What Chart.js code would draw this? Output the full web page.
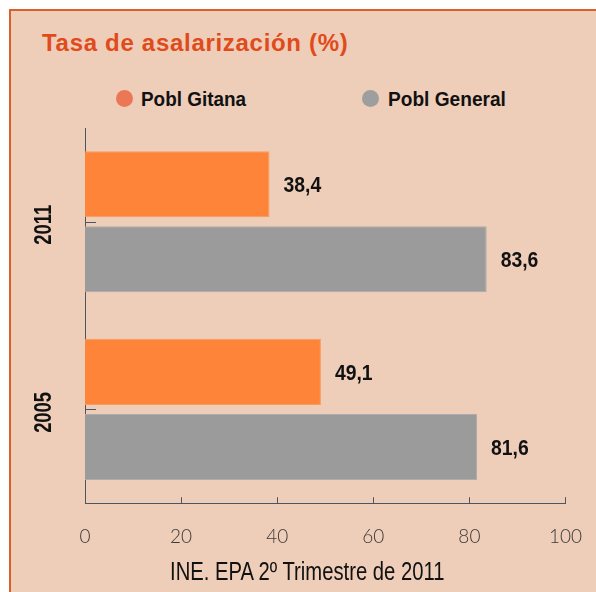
<!DOCTYPE html>
<html>
<head>
<meta charset="utf-8">
<script src="https://cdn.jsdelivr.net/npm/chart.js@4/dist/chart.umd.min.js"></script>
<style>
  html, body { margin: 0; padding: 0; background: #fff; }
  body { width: 596px; height: 592px; position: relative; overflow: hidden; }
  #panel {
    position: absolute; left: 9px; top: 9px; width: 600px; height: 600px;
    background: #eecdb9; border-top: 2px solid #db5f28; border-left: 2px solid #db5f28;
  }
  .cond { font-family: "Liberation Sans", Arial, sans-serif; transform-origin: 0 50%; white-space: nowrap; }
  #title {
    position: absolute; left: 42px; top: 29px; margin: 0;
    font-size: 24px; letter-spacing: 0.7px; font-weight: bold; color: #e04b1b;
  }
  .leg { position: absolute; top: 87px; font-size: 21px; font-weight: bold; color: #111; }
  .dot { position: absolute; top: 90px; width: 17px; height: 17px; border-radius: 50%; }
  #source { position: absolute; left: 170px; top: 557px; font-size: 25px; color: #111; transform: scaleX(0.81); }
  #wrap { position: absolute; left: 0; top: 110px; width: 604px; height: 473px; }
</style>
</head>
<body>
<div id="panel"></div>
<div id="title" class="cond">Tasa de asalarización (%)</div>
<div class="dot" style="left:116px; background:#eb7757"></div>
<div class="leg cond" style="left:141px; transform: scaleX(0.9)">Pobl Gitana</div>
<div class="dot" style="left:362px; background:#9e9e9e"></div>
<div class="leg cond" style="left:388px; transform: scaleX(0.91)">Pobl General</div>
<div id="wrap"><canvas id="chart" width="604" height="473"></canvas></div>
<div id="source" class="cond">INE. EPA 2º Trimestre de 2011</div>
<script>
var years = ['2011', '2005'];
var seriesNames = ['Pobl Gitana', 'Pobl General'];
var gitana = [38.4, 49.1];
var general = [83.6, 81.6];
var xTicks = [0, 20, 40, 60, 80, 100];

var FONT = '"Liberation Sans", Arial, sans-serif';
var axisColor = '#4b5661';

// inward ticks, rotated year labels and value labels (condensed)
var decor = {
    id: 'decor',
    afterDraw: function(chart) {
        var ctx = chart.ctx;
        var xs = chart.scales.x, ys = chart.scales.y;
        var area = chart.chartArea;
        ctx.save();
        ctx.strokeStyle = axisColor;
        ctx.lineWidth = 1;
        xTicks.forEach(function(v) {
            if (v === 0) return;
            var px = Math.round(xs.getPixelForValue(v)) + 0.5;
            ctx.beginPath();
            ctx.moveTo(px, area.bottom);
            ctx.lineTo(px, area.bottom - 6);
            ctx.stroke();
        });
        years.forEach(function(y, i) {
            var py = Math.round(ys.getPixelForValue(i)) + 0.5;
            ctx.beginPath();
            ctx.moveTo(area.left, py);
            ctx.lineTo(area.left + 11, py);
            ctx.stroke();
            ctx.save();
            ctx.translate(45, ys.getPixelForValue(i) + 3);
            ctx.rotate(-Math.PI / 2);
            ctx.scale(0.8, 1);
            ctx.fillStyle = '#111';
            ctx.font = 'bold 23px ' + FONT;
            ctx.textAlign = 'center';
            ctx.textBaseline = 'middle';
            ctx.fillText(y, 0, 0);
            ctx.restore();
        });
        ctx.fillStyle = '#111';
        ctx.font = 'bold 22px ' + FONT;
        ctx.textAlign = 'left';
        ctx.textBaseline = 'middle';
        chart.data.datasets.forEach(function(ds, di) {
            chart.getDatasetMeta(di).data.forEach(function(bar, i) {
                var txt = ds.data[i].toFixed(1).replace('.', ',');
                ctx.save();
                ctx.translate(bar.x + 14, bar.y + 2);
                ctx.scale(0.88, 1);
                ctx.fillText(txt, 0, 0);
                ctx.restore();
            });
        });
        ctx.restore();
    }
};

new Chart(document.getElementById('chart'), {
    type: 'bar',
    data: {
        labels: years,
        datasets: [
            { label: seriesNames[0], data: gitana, backgroundColor: '#fd8438', borderColor: '#f99a5e', borderWidth: 1 },
            { label: seriesNames[1], data: general, backgroundColor: '#9b9b9b', borderColor: '#acacac', borderWidth: 1 }
        ]
    },
    options: {
        indexAxis: 'y',
        responsive: false,
        animation: false,
        categoryPercentage: 0.8,
        barPercentage: 0.88,
        layout: { padding: { left: 85, right: 0, top: 18, bottom: 13 } },
        plugins: { legend: { display: false }, tooltip: { enabled: false } },
        scales: {
            x: {
                min: 0, max: 100,
                afterBuildTicks: function(s) { s.ticks = xTicks.map(function(v) { return { value: v }; }); },
                grid: { display: false, drawTicks: false },
                border: { color: axisColor, width: 1 },
                ticks: { padding: 22, color: '#3a3a3a', font: { family: 'Lato, "DejaVu Sans", sans-serif', size: 19, weight: '300' } }
            },
            y: {
                grid: { display: false, drawTicks: false },
                border: { color: axisColor, width: 1 },
                ticks: { display: false }
            }
        }
    },
    plugins: [decor]
});
</script>
</body>
</html>
